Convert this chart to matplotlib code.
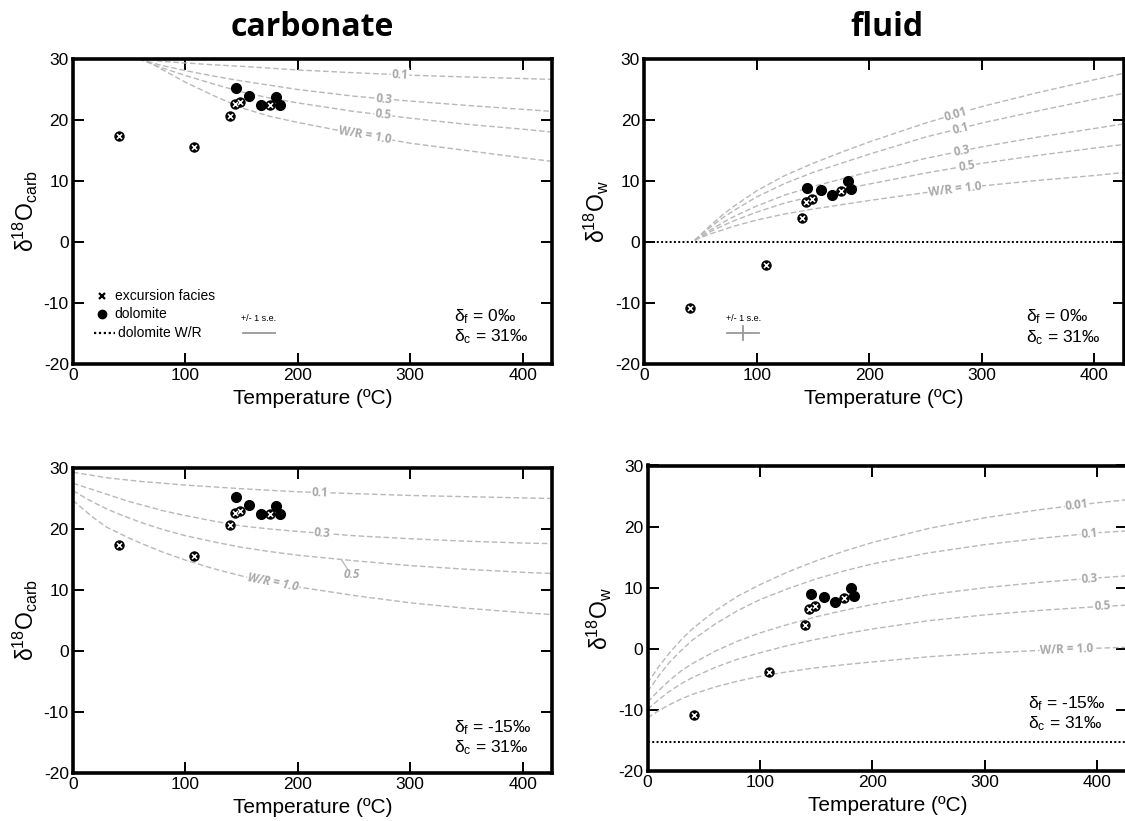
import matplotlib
matplotlib.use('Agg')
import matplotlib.pyplot as plt
import numpy as np

plt.rcParams['font.family'] = ['Liberation Sans', 'DejaVu Sans']
plt.rcParams['mathtext.fontset'] = 'custom'
plt.rcParams['mathtext.rm'] = 'Liberation Sans'
plt.rcParams['mathtext.it'] = 'Liberation Sans:italic'
plt.rcParams['axes.unicode_minus'] = False

## sample data (same temperatures in every panel)
exc_T = [41, 108, 140, 144, 149, 175]
dol_T = [145, 157, 167, 181, 184]
exc_carb = [17.4, 15.6, 20.7, 22.7, 23.0, 22.5]
dol_carb = [25.2, 24.0, 22.4, 23.8, 22.5]
exc_fluid = [-10.9, -3.8, 3.9, 6.5, 7.0, 8.3]
dol_fluid = [8.9, 8.5, 7.7, 10.0, 8.7]

## W/R model curves
# carbonate, df = 0
tl_T = [45, 60, 80, 100, 125, 150, 175, 200, 250, 300, 350, 400, 427]
tl_01 = [30.3, 29.95, 29.6, 29.35, 29.05, 28.8, 28.5, 28.2, 27.75, 27.35, 27.05, 26.8, 26.65]
tl_03 = [31.0, 29.9, 28.9, 28.1, 27.2, 26.4, 25.7, 25.0, 23.9, 23.1, 22.4, 21.75, 21.4]
tl_05 = [31.2, 29.9, 28.5, 27.3, 25.9, 24.6, 23.6, 22.8, 21.4, 20.3, 19.3, 18.5, 18.0]
tl_10 = [31.5, 30.3, 28.2, 26.2, 24.0, 22.0, 20.6, 19.6, 17.8, 16.2, 15.0, 13.8, 13.2]
# fluid, df = 0
tr_T = [45, 50, 60, 70, 80, 100, 125, 150, 175, 200, 250, 300, 350, 400, 427]
tr_001 = [0.3, 1.2, 2.9, 4.5, 5.9, 8.4, 10.9, 12.9, 14.7, 16.4, 19.5, 22.2, 24.5, 26.6, 27.7]
tr_01 = [0.3, 1.1, 2.6, 4.0, 5.2, 7.4, 9.6, 11.4, 12.9, 14.4, 17.2, 19.5, 21.5, 23.4, 24.4]
tr_03 = [0.3, 0.9, 2.1, 3.2, 4.2, 5.9, 7.7, 9.1, 10.3, 11.5, 13.7, 15.6, 17.2, 18.6, 19.4]
tr_05 = [0.3, 0.8, 1.8, 2.7, 3.5, 4.9, 6.4, 7.5, 8.6, 9.5, 11.3, 12.9, 14.2, 15.4, 16.0]
tr_10 = [0.3, 0.7, 1.4, 2.0, 2.6, 3.6, 4.6, 5.4, 6.1, 6.8, 8.1, 9.2, 10.1, 10.9, 11.4]
# carbonate, df = -15
bl_T = [0, 10, 20, 30, 40, 50, 60, 80, 100, 125, 150, 175, 200, 250, 300, 350, 400, 427]
bl_01 = [29.3, 29.0, 28.7, 28.4, 28.2, 28.0, 27.8, 27.5, 27.2, 26.9, 26.6, 26.35, 26.1, 25.8, 25.5, 25.3, 25.1, 25.0]
bl_03 = [27.5, 26.9, 26.3, 25.7, 25.1, 24.5, 24.0, 23.0, 22.2, 21.3, 20.5, 20.0, 19.6, 18.9, 18.4, 18.0, 17.7, 17.6]
bl_05 = [26.3, 25.2, 24.2, 23.3, 22.5, 21.8, 21.1, 19.9, 18.9, 17.9, 17.0, 16.3, 15.7, 14.8, 14.0, 13.4, 12.9, 12.7]
bl_10 = [24.7, 23.1, 21.6, 20.3, 19.4, 18.5, 17.7, 16.2, 14.9, 13.5, 12.3, 11.35, 10.5, 9.1, 7.9, 7.0, 6.3, 5.95]
# fluid, df = -15
br_T = [0, 10, 20, 30, 40, 60, 80, 100, 125, 150, 175, 200, 250, 300, 350, 400, 427]
br_001 = [-5.6, -2.9, -0.55, 1.5, 3.3, 6.2, 8.6, 10.5, 12.6, 14.4, 16.0, 17.4, 19.7, 21.45, 22.8, 23.9, 24.4]
br_01 = [-7.0, -4.4, -2.1, -0.25, 1.45, 4.05, 6.25, 8.05, 9.85, 11.45, 12.75, 13.9, 15.7, 17.05, 18.1, 19.0, 19.3]
br_03 = [-8.7, -6.8, -5.1, -3.6, -2.4, -0.4, 1.25, 2.6, 4.0, 5.25, 6.3, 7.25, 8.85, 10.0, 10.9, 11.6, 11.95]
br_05 = [-9.9, -8.3, -6.9, -5.7, -4.7, -3.05, -1.7, -0.65, 0.55, 1.55, 2.45, 3.25, 4.6, 5.55, 6.3, 6.9, 7.15]
br_10 = [-11.3, -10.1, -9.1, -8.2, -7.45, -6.25, -5.3, -4.5, -3.75, -3.1, -2.6, -2.15, -1.3, -0.7, -0.25, 0.1, 0.25]

W, H = 1125, 821
fig = plt.figure(figsize=(W / 100, H / 100), dpi=100)

CURVE_C = '#b8b8b8'
LAB_C = '#a9a9a9'


def make_axes(left, top, right, bottom, ylab):
    ax = fig.add_axes([left / W, 1 - bottom / H, (right - left) / W, (bottom - top) / H])
    ax.set_xlim(0, 426.4)
    ax.set_ylim(-20, 30)
    ax.set_xticks([0, 100, 200, 300, 400])
    ax.set_yticks([-20, -10, 0, 10, 20, 30])
    ax.tick_params(direction='in', length=8, width=1.4, top=True, right=True,
                   labelsize=12.5, pad=3)
    for s in ax.spines.values():
        s.set_linewidth(2.6)
    ax.set_xlabel('Temperature (ºC)', fontsize=15, labelpad=4)
    ax.set_ylabel(ylab, fontsize=16.5, labelpad=3)
    return ax


def curve(ax, T, vals):
    ax.plot(T, vals, color=CURVE_C, lw=1.0, ls=(0, (4, 2)), zorder=2)


def curve_label(ax, T, vals, x, text, italic=False):
    y = np.interp(x, T, vals)
    p1 = ax.transData.transform((x - 8, np.interp(x - 8, T, vals)))
    p2 = ax.transData.transform((x + 8, np.interp(x + 8, T, vals)))
    ang = np.degrees(np.arctan2(p2[1] - p1[1], p2[0] - p1[0]))
    ax.text(x, y, text, rotation=ang, rotation_mode='anchor', ha='center', va='center',
            fontsize=8.5, color=LAB_C, fontweight='bold', family='Open Sans',
            style='italic' if italic else 'normal',
            bbox=dict(fc='white', ec='none', pad=0.6), zorder=3)


def points(ax, yexc, ydol):
    ax.plot(dol_T, ydol, 'o', color='black', ms=7, zorder=5)
    ax.plot(exc_T, yexc, 'o', color='black', ms=6.5, zorder=5)
    ax.plot(exc_T, yexc, 'x', color='white', ms=3.6, mew=1.1, zorder=6)


def deltas(ax, x, y1, y2, df):
    ax.text(x, y1, r'$\mathrm{\delta_f}$ = ' + df + '‰', fontsize=12.5, va='center')
    ax.text(x, y2, r'$\mathrm{\delta_c}$ = 31‰', fontsize=12.5, va='center')


ylab_c = r'$\mathrm{\delta^{18}O_{carb}}$'
ylab_w = r'$\mathrm{\delta^{18}O_w}$'

## top left: carbonate, df = 0
ax1 = make_axes(73, 59, 552.3, 364, ylab_c)
for v in [tl_01, tl_03, tl_05, tl_10]:
    curve(ax1, tl_T, v)
curve_label(ax1, tl_T, tl_01, 291, '0.1')
curve_label(ax1, tl_T, tl_03, 277, '0.3')
curve_label(ax1, tl_T, tl_05, 276, '0.5')
curve_label(ax1, tl_T, tl_10, 260, 'W/R = 1.0')
points(ax1, exc_carb, dol_carb)
# legend drawn by hand
ax1.plot([26], [-8.8], 'x', color='black', ms=5, mew=1.6)
ax1.plot([26], [-11.8], 'o', color='black', ms=6)
ax1.plot([19, 37], [-15.0, -15.0], color='black', lw=1.6, ls=(0, (1, 1.2)))
ax1.text(37, -8.8, 'excursion facies', fontsize=10, va='center')
ax1.text(37, -11.8, 'dolomite', fontsize=10, va='center')
ax1.text(40, -15.0, 'dolomite W/R', fontsize=10, va='center')
ax1.text(165, -12.6, '+/- 1 s.e.', fontsize=6.5, ha='center', va='center')
ax1.plot([151, 180], [-14.9, -14.9], color='#999999', lw=1.3)
deltas(ax1, 339, -12.3, -15.5, '0')

## top right: fluid, df = 0
ax2 = make_axes(644.2, 59, 1124, 364, ylab_w)
ax2.axhline(0, color='black', lw=1.4, ls=(0, (1, 1.2)), zorder=2)
for v in [tr_001, tr_01, tr_03, tr_05, tr_10]:
    curve(ax2, tr_T, v)
curve_label(ax2, tr_T, tr_001, 277, '0.01')
curve_label(ax2, tr_T, tr_01, 281, '0.1')
curve_label(ax2, tr_T, tr_03, 282, '0.3')
curve_label(ax2, tr_T, tr_05, 287, '0.5')
curve_label(ax2, tr_T, tr_10, 276, 'W/R = 1.0')
points(ax2, exc_fluid, dol_fluid)
ax2.text(88, -12.6, '+/- 1 s.e.', fontsize=6.5, ha='center', va='center')
ax2.plot([73.4, 102.4], [-14.9, -14.9], color='#999999', lw=1.3)
ax2.plot([87.6, 87.6], [-13.7, -16.1], color='#999999', lw=1.3)
deltas(ax2, 339, -12.3, -15.6, '0')

## bottom left: carbonate, df = -15
ax3 = make_axes(73, 468, 552.3, 773, ylab_c)
for v in [bl_01, bl_03, bl_05, bl_10]:
    curve(ax3, bl_T, v)
curve_label(ax3, bl_T, bl_01, 220, '0.1')
curve_label(ax3, bl_T, bl_03, 222, '0.3')
curve_label(ax3, bl_T, bl_10, 178, 'W/R = 1.0', italic=True)
ax3.plot([239, 244], [14.9, 13.5], color=CURVE_C, lw=0.9)
ax3.text(248, 12.5, '0.5', fontsize=8.5, color=LAB_C, fontweight='bold', family='Open Sans',
         style='italic', ha='center', va='center')
points(ax3, exc_carb, dol_carb)
deltas(ax3, 339, -12.5, -15.8, '-15')

## bottom right: fluid, df = -15
ax4 = make_axes(647.6, 465.5, 1127, 771, ylab_w)
ax4.axhline(-15.2, color='black', lw=1.4, ls=(0, (1, 1.2)), zorder=2)
for v in [br_001, br_01, br_03, br_05, br_10]:
    curve(ax4, br_T, v)
curve_label(ax4, br_T, br_001, 382, '0.01')
curve_label(ax4, br_T, br_01, 393, '0.1')
curve_label(ax4, br_T, br_03, 393, '0.3')
curve_label(ax4, br_T, br_05, 405, '0.5')
curve_label(ax4, br_T, br_10, 373, 'W/R = 1.0')
points(ax4, exc_fluid, dol_fluid)
deltas(ax4, 338, -8.9, -12.2, '-15')

## column titles
fig.text(312 / W, 1 - 28 / H, 'carbonate', fontsize=23, fontweight='bold', family='Open Sans',
         ha='center', va='center')
fig.text(887 / W, 1 - 28 / H, 'fluid', fontsize=23, fontweight='bold', family='Open Sans',
         ha='center', va='center')

fig.savefig('out.png', dpi=100)
